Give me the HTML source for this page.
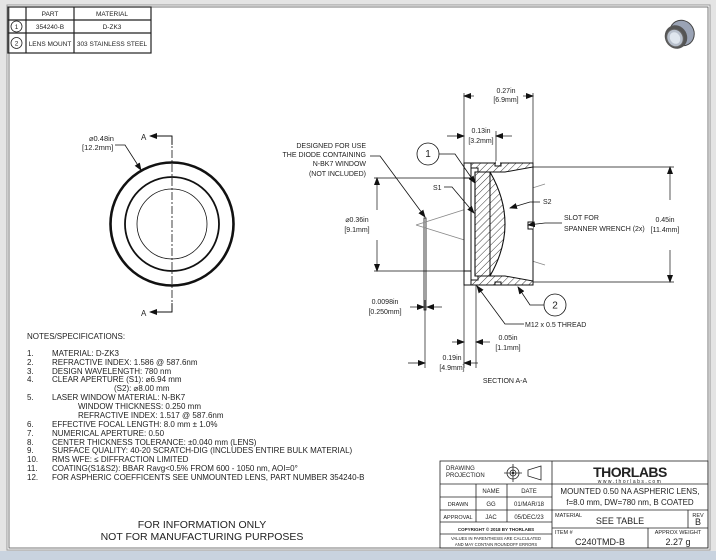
<!DOCTYPE html>
<html><head><meta charset="utf-8"><style>
html,body{margin:0;padding:0;background:#fff}
svg{display:block}
text{font-family:"Liberation Sans",sans-serif;fill:#222}
</style></head><body>
<svg width="716" height="560" viewBox="0 0 716 560" xmlns="http://www.w3.org/2000/svg">
<defs>
<pattern id="h" width="5" height="5" patternUnits="userSpaceOnUse" patternTransform="rotate(45)"><line x1="0" y1="0" x2="0" y2="5" stroke="#222" stroke-width="0.9"/></pattern>
<marker id="ar" markerWidth="8" markerHeight="6" refX="7" refY="3" orient="auto" markerUnits="userSpaceOnUse"><path d="M0,0 L8,3 L0,6z" fill="#111"/></marker>
</defs>
<rect width="716" height="560" fill="#e4e4e4"/>
<rect x="0" y="551" width="716" height="9" fill="#c9d3df"/>
<rect x="7" y="5" width="703" height="545" fill="#fff" stroke="#999" stroke-width="1"/>
<rect x="9" y="7" width="699" height="541" fill="none" stroke="#555" stroke-width="0.8"/>

<!-- parts table -->
<g stroke="#222" stroke-width="1.2" fill="none">
<rect x="8" y="7" width="143" height="46"/>
<line x1="26" y1="7" x2="26" y2="53"/><line x1="74" y1="7" x2="74" y2="53"/>
<line x1="8" y1="20" x2="151" y2="20"/><line x1="8" y1="33" x2="151" y2="33"/>
<circle cx="16.5" cy="26.5" r="5.5" stroke-width="0.8"/><circle cx="16.5" cy="43" r="5.5" stroke-width="0.8"/>
</g>
<g font-size="6.5" text-anchor="middle">
<text x="50" y="16">PART</text><text x="112" y="16">MATERIAL</text>
<text x="16.5" y="29">1</text><text x="16.5" y="45.5">2</text>
<text x="50" y="29">354240-B</text><text x="112" y="29">D-ZK3</text>
<text x="50" y="46">LENS MOUNT</text><text x="112" y="46">303 STAINLESS STEEL</text>
</g>

<!-- thumbnail -->
<g transform="translate(678,35)">
<ellipse cx="4" cy="-2" rx="12" ry="13" fill="#9aa3b5" stroke="#444" transform="rotate(-30 4 -2)"/>
<ellipse cx="-2" cy="2" rx="11" ry="12" fill="#555" transform="rotate(-30 -2 2)"/>
<ellipse cx="-3" cy="3" rx="8" ry="9" fill="#b8c0cc" stroke="#666" transform="rotate(-30 -3 3)"/>
<ellipse cx="-3" cy="3" rx="5" ry="6" fill="#dfe6ee" transform="rotate(-30 -3 3)"/>
</g>

<!-- front view -->
<g fill="none" stroke="#111">
<circle cx="172" cy="224" r="61.5" stroke-width="2.6"/>
<circle cx="172" cy="224" r="47" stroke-width="1.8"/>
<circle cx="172" cy="224" r="35" stroke-width="0.8"/>
<line x1="172" y1="136" x2="172" y2="312" stroke-width="0.8" stroke-dasharray="8,2,2,2"/>
<polyline points="172,145 172,136 150,136" stroke-width="0.9" marker-end="url(#ar)"/>
<polyline points="172,303 172,312 150,312" stroke-width="0.9" marker-end="url(#ar)"/>
<polyline points="115,145 125,145 141,170" stroke-width="0.8" marker-end="url(#ar)"/>
</g>
<text x="141" y="140" font-size="8">A</text><text x="141" y="316" font-size="8">A</text>
<text x="89" y="141" font-size="7.5">⌀0.48in</text><text x="82" y="150" font-size="7.5">[12.2mm]</text>

<!-- section view -->
<g fill="none" stroke="#111" stroke-width="1">
<!-- dims lines -->
<line x1="464" y1="93" x2="464" y2="163" stroke-width="0.7"/>
<line x1="533" y1="93" x2="533" y2="163" stroke-width="0.7"/>
<line x1="474" y1="96" x2="464" y2="96" marker-end="url(#ar)" stroke-width="0.7"/>
<line x1="523" y1="96" x2="533" y2="96" marker-end="url(#ar)" stroke-width="0.7"/>
<line x1="496" y1="131" x2="496" y2="163" stroke-width="0.7"/>
<line x1="447" y1="136" x2="464" y2="136" marker-end="url(#ar)" stroke-width="0.7"/>
<line x1="512" y1="136" x2="496" y2="136" marker-end="url(#ar)" stroke-width="0.7"/>
<line x1="533" y1="167" x2="674" y2="167" stroke-width="0.7"/>
<line x1="533" y1="282" x2="674" y2="282" stroke-width="0.7"/>
<line x1="670" y1="200" x2="670" y2="167" marker-end="url(#ar)" stroke-width="0.7"/>
<line x1="670" y1="250" x2="670" y2="282" marker-end="url(#ar)" stroke-width="0.7"/>
<line x1="374" y1="178" x2="464" y2="178" stroke-width="0.7"/>
<line x1="374" y1="271" x2="464" y2="271" stroke-width="0.7"/>
<line x1="377" y1="210" x2="377" y2="178" marker-end="url(#ar)" stroke-width="0.7"/>
<line x1="377" y1="240" x2="377" y2="271" marker-end="url(#ar)" stroke-width="0.7"/>
<line x1="464" y1="285" x2="464" y2="368" stroke-width="0.7"/>
<line x1="476" y1="285" x2="476" y2="368" stroke-width="0.7"/>
<line x1="425" y1="300" x2="425" y2="368" stroke-width="0.7"/>
<line x1="408" y1="363" x2="425" y2="363" marker-end="url(#ar)" stroke-width="0.7"/>
<line x1="478" y1="363" x2="464" y2="363" marker-end="url(#ar)" stroke-width="0.7"/>
<line x1="452" y1="342" x2="464" y2="342" marker-end="url(#ar)" stroke-width="0.7"/>
<line x1="490" y1="342" x2="476" y2="342" marker-end="url(#ar)" stroke-width="0.7"/>
<line x1="410" y1="307" x2="424" y2="307" marker-end="url(#ar)" stroke-width="0.7"/>
<line x1="442" y1="307" x2="427" y2="307" marker-end="url(#ar)" stroke-width="0.7"/>
<!-- window -->
<rect x="424" y="218" width="2" height="92" stroke-width="0.8"/>
</g>
<!-- rays -->
<g stroke="#888" stroke-width="0.8" fill="none">
<line x1="416" y1="225" x2="545" y2="184"/>
<line x1="416" y1="225" x2="545" y2="265"/>
</g>
<!-- mount -->
<g stroke="#111" stroke-width="1">
<path d="M464,163 H533 V285 H464 Z" fill="#fff"/>
<path d="M471,163 H533 V167 L505,172 H478 V168 H471 Z" fill="url(#h)"/>
<path d="M471,285 H533 V281 L505,276 H478 V280 H471 Z" fill="url(#h)"/>
<line x1="471" y1="163" x2="471" y2="285"/>
<line x1="464" y1="178" x2="471" y2="178"/><line x1="464" y1="271" x2="471" y2="271"/>
<path d="M475,172 H490 Q520,224 490,276 H475 Z" fill="url(#h)" stroke-width="1.1"/>
<rect x="496" y="161" width="4" height="4" fill="#fff" stroke="none"/>
<path d="M495,163 V166 H501 V163" fill="none"/>
<path d="M495,285 V282 H501 V285" fill="none"/>
<path d="M533,222 H528 V229 H533" fill="#fff"/>
<line x1="490" y1="172" x2="490" y2="276"/>
</g>
<!-- leaders -->
<g fill="none" stroke="#111" stroke-width="0.8">
<circle cx="428" cy="154" r="11"/>
<circle cx="555" cy="305" r="11"/>
<polyline points="439,154 455,154 475,183" marker-end="url(#ar)"/>
<polyline points="544,305 530,305 518,287" marker-end="url(#ar)"/>
<polyline points="370,156 380,156 425,217" marker-end="url(#ar)"/>
<polyline points="444,187 452,187 474,213" marker-end="url(#ar)"/>
<polyline points="540,202 530,202 510,208" marker-end="url(#ar)"/>
<polyline points="562,223 545,223 528,225" marker-end="url(#ar)"/>
<polyline points="524,324 505,324 477,286" marker-end="url(#ar)"/>
</g>
<g font-size="7">
<text x="428" y="157" text-anchor="middle" font-size="10">1</text>
<text x="555" y="308.5" text-anchor="middle" font-size="10">2</text>
<text x="506" y="93" text-anchor="middle">0.27in</text><text x="506" y="102" text-anchor="middle">[6.9mm]</text>
<text x="481" y="133" text-anchor="middle">0.13in</text><text x="481" y="143" text-anchor="middle">[3.2mm]</text>
<text x="366" y="148" text-anchor="end">DESIGNED FOR USE</text>
<text x="366" y="157" text-anchor="end">THE DIODE CONTAINING</text>
<text x="366" y="166" text-anchor="end">N-BK7 WINDOW</text>
<text x="366" y="176" text-anchor="end">(NOT INCLUDED)</text>
<text x="433" y="190">S1</text><text x="543" y="204">S2</text>
<text x="564" y="220">SLOT FOR</text><text x="564" y="231">SPANNER WRENCH (2x)</text>
<text x="665" y="222" text-anchor="middle">0.45in</text><text x="665" y="232" text-anchor="middle">[11.4mm]</text>
<text x="357" y="222" text-anchor="middle">⌀0.36in</text><text x="357" y="232" text-anchor="middle">[9.1mm]</text>
<text x="385" y="304" text-anchor="middle">0.0098in</text><text x="385" y="314" text-anchor="middle">[0.250mm]</text>
<text x="525" y="327">M12 x 0.5 THREAD</text>
<text x="508" y="340" text-anchor="middle">0.05in</text><text x="508" y="350" text-anchor="middle">[1.1mm]</text>
<text x="452" y="360" text-anchor="middle">0.19in</text><text x="452" y="370" text-anchor="middle">[4.9mm]</text>
<text x="505" y="383" text-anchor="middle">SECTION A-A</text>
</g>

<!-- notes -->
<g font-size="8">
<text x="27" y="339">NOTES/SPECIFICATIONS:</text>
<text x="27" y="356">1.</text><text x="52" y="356">MATERIAL: D-ZK3</text>
<text x="27" y="365">2.</text><text x="52" y="365">REFRACTIVE INDEX: 1.586 @ 587.6nm</text>
<text x="27" y="374">3.</text><text x="52" y="374">DESIGN WAVELENGTH: 780 nm</text>
<text x="27" y="382">4.</text><text x="52" y="382">CLEAR APERTURE (S1): ⌀6.94 mm</text>
<text x="114" y="391">(S2): ⌀8.00 mm</text>
<text x="27" y="400">5.</text><text x="52" y="400">LASER WINDOW MATERIAL: N-BK7</text>
<text x="78" y="409">WINDOW THICKNESS: 0.250 mm</text>
<text x="78" y="418">REFRACTIVE INDEX: 1.517 @ 587.6nm</text>
<text x="27" y="427">6.</text><text x="52" y="427">EFFECTIVE FOCAL LENGTH: 8.0 mm ± 1.0%</text>
<text x="27" y="436">7.</text><text x="52" y="436">NUMERICAL APERTURE: 0.50</text>
<text x="27" y="445">8.</text><text x="52" y="445">CENTER THICKNESS TOLERANCE: ±0.040 mm (LENS)</text>
<text x="27" y="453">9.</text><text x="52" y="453">SURFACE QUALITY: 40-20 SCRATCH-DIG (INCLUDES ENTIRE BULK MATERIAL)</text>
<text x="27" y="462">10.</text><text x="52" y="462">RMS WFE: ≤ DIFFRACTION LIMITED</text>
<text x="27" y="471">11.</text><text x="52" y="471">COATING(S1&amp;S2): BBAR Ravg&lt;0.5% FROM 600 - 1050 nm, AOI=0°</text>
<text x="27" y="480">12.</text><text x="52" y="480">FOR ASPHERIC COEFFICENTS SEE UNMOUNTED LENS, PART NUMBER 354240-B</text>
</g>
<g font-size="10.5" text-anchor="middle">
<text x="202" y="528">FOR INFORMATION ONLY</text>
<text x="202" y="540">NOT FOR MANUFACTURING PURPOSES</text>
</g>

<!-- title block -->
<g stroke="#222" stroke-width="0.8" fill="none">
<rect x="440" y="461" width="268" height="87"/>
<line x1="552" y1="461" x2="552" y2="548"/>
<line x1="440" y1="484" x2="552" y2="484"/>
<line x1="440" y1="497" x2="552" y2="497"/>
<line x1="440" y1="510" x2="708" y2="510"/>
<line x1="440" y1="522" x2="552" y2="522"/>
<line x1="440" y1="534" x2="552" y2="534"/>
<line x1="476" y1="484" x2="476" y2="522"/>
<line x1="507" y1="484" x2="507" y2="522"/>
<line x1="552" y1="484" x2="708" y2="484"/>
<line x1="552" y1="528" x2="708" y2="528"/>
<line x1="688" y1="510" x2="688" y2="528"/>
<line x1="648" y1="528" x2="648" y2="548"/>
<circle cx="513" cy="473" r="6"/><circle cx="513" cy="473" r="3"/>
<line x1="504" y1="473" x2="522" y2="473"/><line x1="513" y1="464" x2="513" y2="482"/>
<path d="M541,466 L528,470 V476 L541,480 Z"/>
</g>
<circle cx="513" cy="473" r="1.2" fill="#222"/>
<g font-size="6">
<text x="446" y="470">DRAWING</text><text x="446" y="477">PROJECTION</text>
<text x="491" y="493" text-anchor="middle">NAME</text><text x="529" y="493" text-anchor="middle">DATE</text>
<text x="458" y="506" text-anchor="middle" font-size="5.5">DRAWN</text><text x="491" y="506" text-anchor="middle">GG</text><text x="529" y="506" text-anchor="middle">01/MAR/18</text>
<text x="458" y="519" text-anchor="middle" font-size="5.5">APPROVAL</text><text x="491" y="519" text-anchor="middle">JAC</text><text x="529" y="519" text-anchor="middle">05/DEC/23</text>
<text x="496" y="531" text-anchor="middle" font-size="4.5" font-weight="bold">COPYRIGHT © 2018 BY THORLABS</text>
<text x="496" y="540" text-anchor="middle" font-size="4.2">VALUES IN PARENTHESIS ARE CALCULATED</text>
<text x="496" y="546" text-anchor="middle" font-size="4.2">AND MAY CONTAIN ROUNDOFF ERRORS</text>
<text x="555" y="517" font-size="5.5">MATERIAL</text><text x="698" y="517" text-anchor="middle" font-size="5.5">REV</text>
<text x="555" y="534" font-size="5.5">ITEM #</text><text x="678" y="534" text-anchor="middle" font-size="5.5">APPROX WEIGHT</text>
</g>
<text x="630" y="477" text-anchor="middle" font-size="14" font-weight="bold" letter-spacing="-0.5">THORLABS</text>
<text x="630" y="483" text-anchor="middle" font-size="5" letter-spacing="1.5">www.thorlabs.com</text>
<text x="630" y="494" text-anchor="middle" font-size="8">MOUNTED 0.50 NA ASPHERIC LENS,</text>
<text x="630" y="505" text-anchor="middle" font-size="8">f=8.0 mm, DW=780 nm, B COATED</text>
<text x="620" y="524" text-anchor="middle" font-size="9">SEE TABLE</text>
<text x="698" y="525" text-anchor="middle" font-size="9">B</text>
<text x="600" y="545" text-anchor="middle" font-size="9">C240TMD-B</text>
<text x="678" y="545" text-anchor="middle" font-size="9">2.27 g</text>
</svg>
</body></html>
